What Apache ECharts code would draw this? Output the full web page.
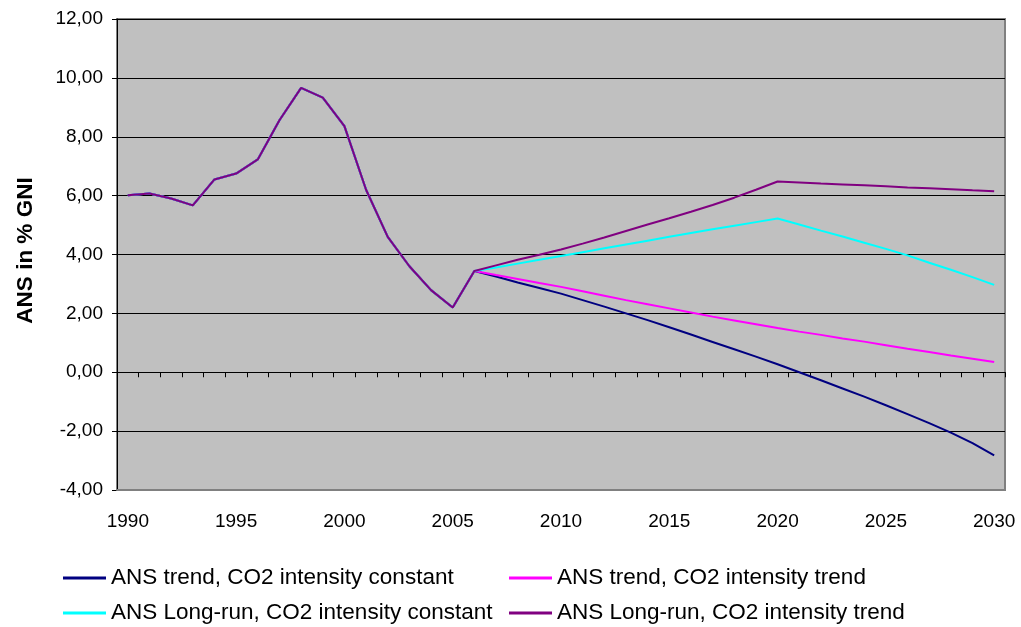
<!DOCTYPE html>
<html>
<head>
<meta charset="utf-8">
<script src="https://cdn.jsdelivr.net/npm/echarts@6/dist/echarts.min.js"></script>
<style>
html,body{margin:0;padding:0;background:#fff;}
#c{width:1021px;height:627px;}
</style>
</head>
<body>
<div id="c"></div>
<script>
var years = ['1990','1991','1992','1993','1994','1995','1996','1997','1998','1999',
  '2000','2001','2002','2003','2004','2005','2006','2007','2008','2009',
  '2010','2011','2012','2013','2014','2015','2016','2017','2018','2019',
  '2020','2021','2022','2023','2024','2025','2026','2027','2028','2029','2030'];

// 1990-2006 shared history
var histVals = [6.01, 6.07, 5.90, 5.67, 6.55, 6.75, 7.23, 8.56, 9.66, 9.33, 8.36, 6.20, 4.60, 3.60, 2.79, 2.20, 3.44];

// 2007-2030 projections
var trendConst = [3.25, 3.05, 2.86, 2.67, 2.45, 2.23, 2.00, 1.77, 1.53, 1.28, 1.03, 0.78, 0.53, 0.27,
  0.00, -0.27, -0.55, -0.83, -1.12, -1.42, -1.73, -2.05, -2.41, -2.82];
var trendTrend = [3.30, 3.17, 3.03, 2.90, 2.75, 2.60, 2.45, 2.31, 2.17, 2.03, 1.89, 1.76, 1.63, 1.50,
  1.38, 1.27, 1.15, 1.04, 0.92, 0.80, 0.69, 0.57, 0.46, 0.35];
var longConst = [3.56, 3.69, 3.82, 3.95, 4.08, 4.21, 4.34, 4.47, 4.60, 4.73, 4.86, 4.98, 5.10, 5.22,
  5.02, 4.81, 4.61, 4.40, 4.19, 3.97, 3.72, 3.48, 3.23, 2.97];
var longTrend = [3.63, 3.82, 3.99, 4.17, 4.37, 4.58, 4.80, 5.02, 5.23, 5.45, 5.68, 5.93, 6.20, 6.48,
  6.45, 6.41, 6.38, 6.35, 6.32, 6.28, 6.25, 6.22, 6.18, 6.15];

var names = ['ANS trend, CO2 intensity constant', 'ANS trend, CO2 intensity trend',
  'ANS Long-run, CO2 intensity constant', 'ANS Long-run, CO2 intensity trend'];
var colors = ['#000080', '#ff00ff', '#00ffff', '#800080'];
var projections = [trendConst, trendTrend, longConst, longTrend];

var font = "'Liberation Sans', Arial, sans-serif";
var chart = echarts.init(document.getElementById('c'));

var series = projections.map(function (p, i) {
  return {
    name: names[i],
    type: 'line',
    data: histVals.concat(p),
    symbol: 'none',
    lineStyle: { color: colors[i], width: 2 },
    itemStyle: { color: colors[i] },
    xAxisIndex: 0,
    yAxisIndex: 0,
    z: 3 + i,
    animation: false
  };
});

var legendPos = [[58, 560], [504, 560], [58, 595], [504, 595]];
var legends = names.map(function (n, i) {
  return {
    left: legendPos[i][0], top: legendPos[i][1],
    itemWidth: 43, itemHeight: 3, icon: 'rect', data: [n],
    textStyle: { fontFamily: font, fontSize: 22.5, color: '#000', lineHeight: 26 }
  };
});

chart.setOption({
  animation: false,
  backgroundColor: '#ffffff',
  grid: {
    left: 117, right: 16, top: 19, bottom: 137,
    show: true, backgroundColor: '#c0c0c0', borderColor: '#808080', borderWidth: 2
  },
  legend: legends,
  xAxis: [
    {
      type: 'category', data: years, boundaryGap: true,
      axisLine: { show: true, onZero: true, lineStyle: { color: '#000', width: 1 } },
      axisTick: { show: true, interval: 0, length: 5, lineStyle: { color: '#000' } },
      axisLabel: { show: false },
      splitLine: { show: false }
    },
    {
      type: 'category', data: years, boundaryGap: true, position: 'bottom', z: 5,
      axisLine: { show: true, onZero: false, lineStyle: { color: '#808080', width: 2 } },
      axisTick: { show: false },
      axisLabel: { show: true, interval: 4, margin: 22, fontFamily: font, fontSize: 19, color: '#000' },
      splitLine: { show: false }
    }
  ],
  yAxis: {
    type: 'value', min: -4, max: 12, interval: 2,
    name: 'ANS in % GNI', nameLocation: 'middle', nameGap: 80, nameRotate: 90,
    nameTextStyle: { fontFamily: font, fontSize: 22.5, fontWeight: 'bold', color: '#000', padding: [0, 0, 0, 8] },
    axisLine: { show: true, lineStyle: { color: '#000', width: 1 } },
    axisTick: { show: true, length: 5, lineStyle: { color: '#000' } },
    axisLabel: {
      margin: 14, fontFamily: font, fontSize: 19, color: '#000',
      formatter: function (v) { return v.toFixed(2).replace('.', ','); }
    },
    splitLine: { show: true, lineStyle: { color: '#000', width: 1 } }
  },
  series: series
});
</script>
</body>
</html>
